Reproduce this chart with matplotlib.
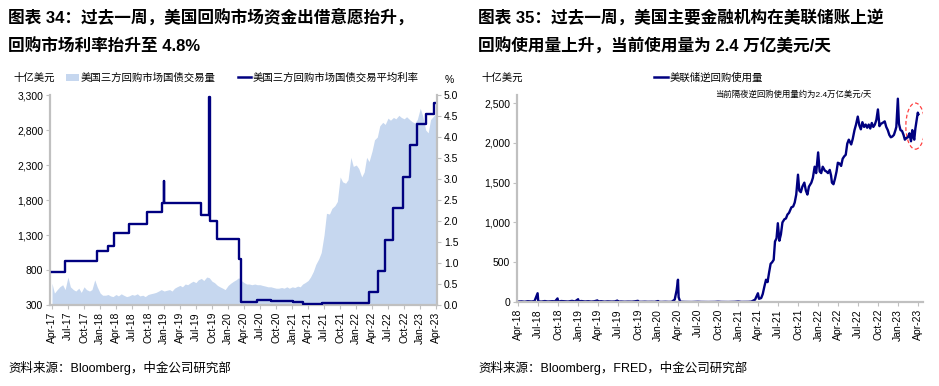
import matplotlib
matplotlib.use('Agg')
import matplotlib.pyplot as plt
import matplotlib.dates as mdates
from matplotlib.patches import Ellipse, Patch
from matplotlib.lines import Line2D
from matplotlib.ticker import FuncFormatter
import pandas as pd

plt.rcParams['font.family'] = ['Liberation Sans', 'Noto Sans CJK SC']

# left chart: tri-party repo treasury volume (bn USD), semi-monthly
vol_dates = pd.date_range('2017-04-01', '2023-04-01', freq='SMS')
vol_values = [
    # 2017 Apr-Dec
    610, 470, 520, 560, 590, 520, 700, 560, 520, 500, 540, 480, 560, 520, 500, 520, 660, 560,
    # 2018
    470, 440, 440, 450, 430, 420, 450, 430, 460, 440, 420, 430,
    450, 440, 460, 430, 440, 420, 450, 460, 470, 480, 500, 520,
    # 2019
    500, 510, 520, 500, 540, 560, 580, 560, 600, 590, 620, 640,
    620, 660, 680, 650, 700, 690, 640, 620, 580, 560, 540, 520,
    # 2020
    580, 610, 640, 660, 690, 650, 620, 600, 600, 590, 600, 590,
    590, 580, 570, 560, 560, 550, 540, 540, 550, 540, 560, 540,
    # 2021
    560, 550, 570, 560, 600, 620, 650, 700, 780, 880, 960, 1050,
    1300, 1610, 1600, 1680, 1720, 1780, 2130, 2060, 2040, 2090, 2410, 2280,
    # 2022
    2300, 2250, 2130, 2200, 2410, 2350, 2500, 2660, 2700, 2860, 2910, 2880,
    2970, 2940, 2980, 2960, 3010, 2980, 2960, 2990, 2950, 2920, 2900, 2950,
    # 2023 Jan-Apr
    3110, 3000, 2800, 2760, 2950, 2990, 3050,
]

# left chart: average tri-party repo rate (%), step changes
rate_dates = ['2017-04-03', '2017-06-15', '2017-12-14', '2018-02-15', '2018-03-22',
              '2018-06-14', '2018-09-27', '2018-12-20', '2018-12-31', '2019-01-02',
              '2019-07-31', '2019-09-16', '2019-09-19', '2019-10-31', '2020-03-04',
              '2020-03-16', '2020-06-15', '2020-09-01', '2021-01-04', '2021-03-01',
              '2021-06-17', '2022-03-17', '2022-05-05', '2022-06-16', '2022-07-28',
              '2022-09-22', '2022-11-03', '2022-12-15', '2023-02-02', '2023-03-23',
              '2023-04-06']
rate_values = [0.78, 1.04, 1.28, 1.40, 1.72,
               1.93, 2.22, 2.43, 2.95, 2.43,
               2.15, 4.95, 2.00, 1.58, 1.10,
               0.08, 0.12, 0.10, 0.07, 0.02,
               0.05, 0.30, 0.80, 1.55, 2.30,
               3.05, 3.80, 4.30, 4.55, 4.80,
               4.80]

# right chart: Fed reverse repo usage (bn USD)
rrp_dates = [
    '2018-04-02', '2018-04-16', '2018-05-01', '2018-05-15', '2018-06-01', '2018-06-15',
    '2018-06-29', '2018-07-02', '2018-07-16', '2018-08-01', '2018-08-15', '2018-09-04',
    '2018-09-17', '2018-09-28', '2018-10-01', '2018-10-15', '2018-11-01', '2018-11-15',
    '2018-12-03', '2018-12-17', '2018-12-31', '2019-01-02', '2019-01-15', '2019-02-01',
    '2019-02-15', '2019-03-01', '2019-03-15', '2019-03-29', '2019-04-01', '2019-04-15',
    '2019-05-01', '2019-05-15', '2019-06-03', '2019-06-17', '2019-06-28', '2019-07-01',
    '2019-07-15', '2019-08-01', '2019-08-15', '2019-09-03', '2019-09-16', '2019-09-30',
    '2019-10-01', '2019-10-15', '2019-11-01', '2019-11-15', '2019-12-02', '2019-12-16',
    '2019-12-31', '2020-01-02', '2020-01-15', '2020-02-03', '2020-02-18', '2020-03-02',
    '2020-03-16', '2020-03-25', '2020-03-31', '2020-04-03', '2020-04-10', '2020-04-20',
    '2020-05-01', '2020-06-01', '2020-06-30', '2020-07-15', '2020-08-17', '2020-09-15',
    '2020-09-30', '2020-10-15', '2020-11-16', '2020-12-15', '2020-12-31', '2021-01-15',
    '2021-02-16', '2021-03-01', '2021-03-18', '2021-03-31', '2021-04-05', '2021-04-15',
    '2021-04-22', '2021-04-30', '2021-05-07', '2021-05-14', '2021-05-21', '2021-05-28',
    '2021-06-04', '2021-06-11', '2021-06-17', '2021-06-24', '2021-06-30', '2021-07-07',
    '2021-07-14', '2021-07-21', '2021-07-30', '2021-08-06', '2021-08-13', '2021-08-20',
    '2021-08-31', '2021-09-08', '2021-09-15', '2021-09-22', '2021-09-30', '2021-10-06',
    '2021-10-13', '2021-10-20', '2021-10-29', '2021-11-05', '2021-11-12', '2021-11-19',
    '2021-11-30', '2021-12-07', '2021-12-15', '2021-12-22', '2021-12-31', '2022-01-07',
    '2022-01-14', '2022-01-21', '2022-01-31', '2022-02-07', '2022-02-14', '2022-02-22',
    '2022-02-28', '2022-03-04', '2022-03-11', '2022-03-18', '2022-03-25', '2022-03-31',
    '2022-04-08', '2022-04-15', '2022-04-22', '2022-04-29', '2022-05-06', '2022-05-13',
    '2022-05-20', '2022-05-31', '2022-06-07', '2022-06-15', '2022-06-22', '2022-06-30',
    '2022-07-07', '2022-07-14', '2022-07-21', '2022-07-29', '2022-08-05', '2022-08-12',
    '2022-08-19', '2022-08-26', '2022-09-02', '2022-09-09', '2022-09-16', '2022-09-23',
    '2022-09-30', '2022-10-07', '2022-10-14', '2022-10-21', '2022-10-31', '2022-11-07',
    '2022-11-14', '2022-11-21', '2022-11-28', '2022-12-05', '2022-12-12', '2022-12-19',
    '2022-12-23', '2022-12-30', '2023-01-04', '2023-01-11', '2023-01-18', '2023-01-25',
    '2023-01-31', '2023-02-07', '2023-02-14', '2023-02-21', '2023-02-28', '2023-03-06',
    '2023-03-10', '2023-03-15', '2023-03-20', '2023-03-24', '2023-03-31', '2023-04-03',
]
rrp_values = [
    5, 8, 3, 10, 6, 12,
    110, 8, 5, 12, 6, 10,
    8, 45, 5, 12, 8, 6,
    14, 7, 35, 8, 12, 6,
    10, 5, 9, 20, 6, 10,
    4, 8, 5, 7, 18, 4,
    6, 3, 5, 4, 8, 15,
    3, 2, 4, 2, 3, 2,
    12, 2, 1, 3, 1, 2,
    30, 150, 280, 60, 5, 2,
    1, 0, 3, 1, 0, 1,
    4, 1, 0, 2, 6, 1,
    2, 5, 30, 110, 40, 50,
    100, 200, 280, 250, 370, 480,
    500, 530, 760, 800, 990, 770,
    850, 1000, 1040, 1050, 1100, 1120,
    1190, 1200, 1250, 1350, 1600, 1400,
    1380, 1450, 1500, 1400, 1350, 1450,
    1500, 1560, 1700, 1620, 1880, 1640,
    1620, 1700, 1650, 1640, 1620, 1660,
    1590, 1500, 1480, 1550, 1640, 1750,
    1740, 1710, 1800, 1830, 1850, 1990,
    2040, 1980, 2050, 2160, 2230, 2330,
    2220, 2170, 2260, 2200, 2230, 2190,
    2230, 2180, 2250, 2200, 2230, 2290,
    2420, 2210, 2240, 2250, 2270, 2200,
    2160, 2100, 2070, 2080, 2100, 2160,
    2200, 2555, 2240, 2160, 2150, 2100,
    2040, 2060, 2070, 2120, 2020, 2160,
    2080, 2040, 2180, 2250, 2380, 2360,
]

vol_color = '#c6d7ef'
navy = '#000080'
grey = '#c0c0c0'

fig = plt.figure(figsize=(9.39, 3.86), dpi=100)


def style_date_axis(ax):
    ax.xaxis.set_major_locator(mdates.MonthLocator(bymonth=[1, 4, 7, 10]))
    ax.xaxis.set_major_formatter(mdates.DateFormatter('%b-%y'))
    ax.tick_params(axis='x', labelrotation=90, labelsize=7.5, color=grey,
                   length=3, width=0.8, pad=2)
    ax.tick_params(axis='y', labelsize=7.5, color=grey, length=3, width=0.8, pad=2)
    for s in ['top', 'right']:
        ax.spines[s].set_visible(False)
    for s in ['left', 'bottom']:
        ax.spines[s].set_color(grey)
        ax.spines[s].set_linewidth(1.6)


# ---- left chart
ax1 = fig.add_axes([0.0533, 0.2098, 0.412, 0.544])
ax1.fill_between(pd.to_datetime(vol_dates), 300, vol_values, color=vol_color, lw=0)
ax1.set_ylim(300, 3300)
ax1.set_yticks(range(300, 3301, 500))
ax1.yaxis.set_major_formatter(FuncFormatter(lambda v, p: f'{v:,.0f}'))
ax1.set_xlim(pd.Timestamp('2017-03-21'), pd.Timestamp('2023-04-06'))
style_date_axis(ax1)

ax2 = ax1.twinx()
ax2.plot(pd.to_datetime(rate_dates), rate_values, drawstyle='steps-post', color=navy, lw=1.7)
ax2.set_ylim(0, 5)
ax2.set_yticks([i * 0.5 for i in range(11)])
ax2.yaxis.set_major_formatter(FuncFormatter(lambda v, p: f'{v:.1f}'))
ax2.tick_params(axis='y', labelsize=7.5, color=grey, length=3, width=0.8, pad=2)
for s in ['top', 'left', 'bottom']:
    ax2.spines[s].set_visible(False)
ax2.spines['right'].set_color(grey)
ax2.spines['right'].set_linewidth(1.6)

fig.text(0.014, 0.798, '十亿美元', fontsize=7.5, va='center')
fig.text(0.474, 0.793, '%', fontsize=7.5, va='center')
handles = [Patch(facecolor=vol_color, edgecolor='none', label='美国三方回购市场国债交易量'),
           Line2D([], [], color=navy, lw=1.8, label='美国三方回购市场国债交易平均利率')]
fig.legend(handles=handles, loc='center left', bbox_to_anchor=(0.070, 0.798), ncol=2,
           frameon=False, fontsize=7.5, handlelength=1.3, handletextpad=0.15,
           columnspacing=2.1, borderpad=0, borderaxespad=0)

# ---- right chart
ax3 = fig.add_axes([0.5506, 0.2176, 0.4324, 0.536])
ax3.plot(pd.to_datetime(rrp_dates), rrp_values, color=navy, lw=1.7)
ax3.set_ylim(0, 2600)
ax3.set_yticks(range(0, 2501, 500))
ax3.yaxis.set_major_formatter(FuncFormatter(lambda v, p: f'{v:,.0f}'))
ax3.set_xlim(pd.Timestamp('2018-03-27'), pd.Timestamp('2023-04-24'))
style_date_axis(ax3)
ax3.add_patch(Ellipse((mdates.date2num(pd.Timestamp('2023-03-20')), 2210), 87, 580,
                      fill=False, edgecolor='#ff4040', ls=(0, (3, 2)), lw=0.9))

fig.text(0.513, 0.798, '十亿美元', fontsize=7.5, va='center')
fig.legend(handles=[Line2D([], [], color=navy, lw=1.8, label='美联储逆回购使用量')],
           loc='center left', bbox_to_anchor=(0.697, 0.798), frameon=False, fontsize=7.5,
           handlelength=1.3, handletextpad=0.15, borderpad=0, borderaxespad=0)
fig.text(0.7614, 0.754, '当前隔夜逆回购使用量约为2.4万亿美元/天', fontsize=6, va='center')

# ---- titles and sources
fig.text(0.0085, 0.956, '图表 34：过去一周，美国回购市场资金出借意愿抬升，',
         fontsize=12, fontweight='bold', va='center')
fig.text(0.0085, 0.881, '回购市场利率抬升至 4.8%', fontsize=12, fontweight='bold', va='center')
fig.text(0.509, 0.956, '图表 35：过去一周，美国主要金融机构在美联储账上逆',
         fontsize=12, fontweight='bold', va='center')
fig.text(0.509, 0.881, '回购使用量上升，当前使用量为 2.4 万亿美元/天',
         fontsize=12, fontweight='bold', va='center')
fig.text(0.0085, 0.047, '资料来源：Bloomberg，中金公司研究部', fontsize=9, va='center')
fig.text(0.509, 0.047, '资料来源：Bloomberg，FRED，中金公司研究部', fontsize=9, va='center')

fig.savefig('out.png', dpi=100)
